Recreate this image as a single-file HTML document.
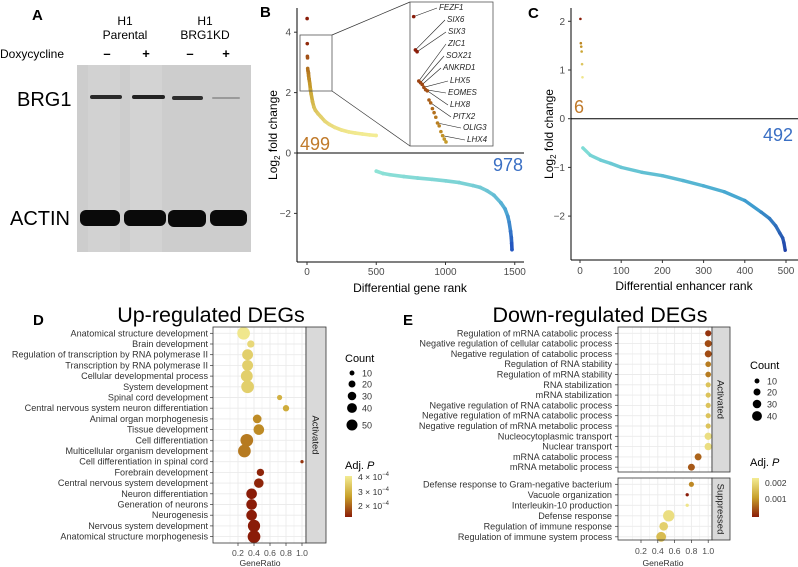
<!DOCTYPE html>
<html><head><meta charset="utf-8"><style>
html,body{margin:0;padding:0;background:#fff;}
svg{display:block;font-family:"Liberation Sans",Arial,sans-serif;}
</style></head><body>
<svg id="fig" width="798" height="567" viewBox="0 0 798 567" xmlns="http://www.w3.org/2000/svg">
<defs>
<linearGradient id="gD" x1="0" y1="0" x2="0" y2="1"><stop offset="0" stop-color="#f3ec94"/><stop offset="0.5" stop-color="#c8a02a"/><stop offset="1" stop-color="#8a1c08"/></linearGradient>
</defs>
<!-- Panel A -->
<g>
<text x="32" y="20" font-size="15" font-weight="bold">A</text>
<text x="125" y="25" font-size="12" text-anchor="middle">H1</text>
<text x="125" y="39" font-size="12" text-anchor="middle">Parental</text>
<text x="205" y="25" font-size="12" text-anchor="middle">H1</text>
<text x="205" y="39" font-size="12" text-anchor="middle">BRG1KD</text>
<text x="0" y="58" font-size="12">Doxycycline</text>
<text x="107" y="58" font-size="13" font-weight="bold" text-anchor="middle">–</text>
<text x="146" y="58" font-size="13" font-weight="bold" text-anchor="middle">+</text>
<text x="190" y="58" font-size="13" font-weight="bold" text-anchor="middle">–</text>
<text x="226" y="58" font-size="13" font-weight="bold" text-anchor="middle">+</text>
<rect x="77" y="65" width="174" height="187" fill="#cdcdcd"/>
<rect x="88" y="65" width="32" height="187" fill="#d2d2d2"/>
<rect x="130" y="65" width="32" height="187" fill="#d3d3d3"/>
<rect x="90" y="95" width="32" height="4" fill="#2a2a2a" rx="2"/>
<rect x="132" y="95" width="33" height="4" fill="#222" rx="2"/>
<rect x="172" y="96" width="31" height="4" fill="#2e2e2e" rx="2"/>
<rect x="212" y="97" width="28" height="2" fill="#9a9a9a" rx="1"/>
<rect x="80" y="210" width="40" height="16" fill="#0a0a0a" rx="6"/>
<rect x="124" y="210" width="42" height="16" fill="#0a0a0a" rx="6"/>
<rect x="168" y="210" width="38" height="17" fill="#0a0a0a" rx="6"/>
<rect x="210" y="210" width="37" height="16" fill="#0a0a0a" rx="6"/>
<text x="17" y="106" font-size="20">BRG1</text>
<text x="10" y="225" font-size="20">ACTIN</text>
</g>
<g id="pB"></g>
<g id="pC"></g>
<g id="pD"></g>
<g id="pE"></g>
</svg>
<script>
// ===== Panel B data =====
const bUpRanks=[1,2,3,4,5,6,8,10,12,15,20,25,30,40,50,60,80,100,130,160,200,250,300,350,400,450,499];
const bUpVals=[4.45,3.62,3.2,3.15,2.8,2.75,2.7,2.65,2.55,2.45,2.3,2.1,1.95,1.7,1.52,1.42,1.3,1.2,1.05,0.95,0.85,0.76,0.7,0.66,0.63,0.6,0.58];
const bDownRanks=[500,550,600,700,800,900,1000,1100,1200,1250,1300,1350,1400,1430,1450,1460,1470,1475,1478,1480];
const bDownVals=[-0.6,-0.68,-0.72,-0.78,-0.83,-0.87,-0.92,-0.98,-1.08,-1.14,-1.25,-1.4,-1.65,-1.85,-2.1,-2.3,-2.6,-2.8,-3.0,-3.2];
const bXTicks=[0,500,1000,1500];
const bYTicks=[-2,0,2,4];
const insetGenes=["FEZF1","SIX6","SIX3","ZIC1","SOX21","ANKRD1","LHX5","EOMES","LHX8","PITX2","OLIG3","LHX4"];
const insetRanks=[1,2,3,4,5,6,7,8,9,10,11,12,13,14,15,16,17,18,19,20];
const insetVals=[4.45,3.87,3.84,3.33,3.3,3.27,3.22,3.18,3.16,3.0,2.95,2.85,2.78,2.7,2.6,2.55,2.45,2.38,2.32,2.27];
// ===== Panel C data =====
const cUpRanks=[1,2,3,4,5,6];
const cUpVals=[2.05,1.55,1.48,1.38,1.12,0.85];
const cDownRanks=[7,25,50,75,100,150,200,250,300,350,400,440,460,475,485,492,495,498];
const cDownVals=[-0.6,-0.75,-0.85,-0.92,-1.0,-1.1,-1.17,-1.27,-1.38,-1.5,-1.68,-1.92,-2.05,-2.2,-2.35,-2.45,-2.55,-2.7];
const cXTicks=[0,100,200,300,400,500];
const cYTicks=[-2,-1,0,1,2];
// ===== Panel D data =====
const dTerms=["Anatomical structure development","Brain development","Regulation of transcription by RNA polymerase II","Transcription by RNA polymerase II","Cellular developmental process","System development","Spinal cord development","Central nervous system neuron differentiation","Animal organ morphogenesis","Tissue development","Cell differentiation","Multicellular organism development","Cell differentiation in spinal cord","Forebrain development","Central nervous system development","Neuron differentiation","Generation of neurons","Neurogenesis","Nervous system development","Anatomical structure morphogenesis"];
const dRatio=[0.27,0.36,0.32,0.32,0.31,0.32,0.72,0.80,0.44,0.46,0.31,0.28,1.0,0.48,0.46,0.37,0.37,0.37,0.40,0.40];
const dCount=[60,20,44,44,52,60,10,15,28,42,60,60,4,20,34,42,42,42,56,60];
const dPadj=[4.2,3.9,3.7,3.7,3.7,3.7,3.1,3.0,2.5,2.5,2.3,2.3,1.5,1.3,1.3,1.2,1.2,1.2,1.2,1.2];
// ===== Panel E data =====
const eTermsA=["Regulation of mRNA catabolic process","Negative regulation of cellular catabolic process","Negative regulation of catabolic process","Regulation of RNA stability","Regulation of mRNA stability","RNA stabilization","mRNA stabilization","Negative regulation of RNA catabolic process","Negative regulation of mRNA catabolic process","Negative regulation of mRNA metabolic process","Nucleocytoplasmic transport","Nuclear transport","mRNA catabolic process","mRNA metabolic process"];
const eRatioA=[1.0,1.0,1.0,1.0,1.0,1.0,1.0,1.0,1.0,1.0,1.0,1.0,0.88,0.80];
const eCountA=[14,18,18,12,12,10,10,10,10,10,20,20,18,18];
const ePadjA=[0.0005,0.0007,0.0007,0.0011,0.0011,0.0019,0.0019,0.0019,0.0019,0.0019,0.0023,0.0023,0.0009,0.0008];
const eTermsS=["Defense response to Gram-negative bacterium","Vacuole organization","Interleukin-10 production","Defense response","Regulation of immune response","Regulation of immune system process"];
const eRatioS=[0.80,0.75,0.75,0.53,0.47,0.44];
const eCountS=[10,4,4,48,28,36];
const ePadjS=[0.0012,0.0003,0.0024,0.0023,0.0021,0.0018];
const ratioTicks=[0.2,0.4,0.6,0.8,1.0];

const NS="http://www.w3.org/2000/svg";
function mk(parent,tag,attrs,txt){const e=document.createElementNS(NS,tag);for(const k in attrs)e.setAttribute(k,attrs[k]);if(txt!==undefined)e.textContent=txt;parent.appendChild(e);return e;}
function lerp(a,b,t){return a+(b-a)*t;}
function hex(c){return [parseInt(c.slice(1,3),16),parseInt(c.slice(3,5),16),parseInt(c.slice(5,7),16)];}
function ramp(stops,t){t=Math.max(0,Math.min(1,t));const n=stops.length-1;const i=Math.min(n-1,Math.floor(t*n));const f=t*n-i;const a=hex(stops[i]),b=hex(stops[i+1]);return `rgb(${Math.round(lerp(a[0],b[0],f))},${Math.round(lerp(a[1],b[1],f))},${Math.round(lerp(a[2],b[2],f))})`;}
const warm=["#f3ec94","#c8a02a","#8a1c08"];

// ===== Panel B =====
(function(){
const g=document.getElementById('pB');
const x=r=>307+r*0.1385, y=v=>153-v*30.2;
mk(g,'text',{x:260,y:17,'font-size':15,'font-weight':'bold',},'B');
mk(g,'line',{x1:297,y1:8,x2:297,y2:262,stroke:'#000','stroke-width':1,});
mk(g,'line',{x1:297,y1:262,x2:524,y2:262,stroke:'#000','stroke-width':1,});
mk(g,'line',{x1:297,y1:y(0),x2:524,y2:y(0),stroke:'#000','stroke-width':1,});
bYTicks.forEach(t=>{const el=mk(g,'text',{x:291,y:y(t)+3.5,'font-size':10,fill:'#4d4d4d','text-anchor':'end'},t<0?'−'+(-t):t);


mk(g,'line',{x1:294,y1:y(t),x2:297,y2:y(t),stroke:'#333'});});
bXTicks.forEach(t=>{const el=mk(g,'text',{x:x(t),y:275,'font-size':10,fill:'#4d4d4d','text-anchor':'middle'},t);


mk(g,'line',{x1:x(t),y1:262,x2:x(t),y2:265,stroke:'#333'});});
mk(g,'text',{x:410,y:292,'font-size':12,'text-anchor':'middle',},'Differential gene rank');
const yt=mk(g,'text',{x:0,y:0,'font-size':12,'text-anchor':'middle',transform:'translate(277,135) rotate(-90)',});
yt.innerHTML='Log<tspan font-size="8" dy="3">2</tspan><tspan dy="-3"> fold change</tspan>';
function series(ranks,vals,col,name){for(let i=0;i<ranks.length-1;i++){const s=mk(g,'line',{x1:x(ranks[i]),y1:y(vals[i]),x2:x(ranks[i+1]),y2:y(vals[i+1]),stroke:col(vals[i]),'stroke-width':3.6,'stroke-linecap':'round'});

}
ranks.forEach((r,i)=>{const c=mk(g,'circle',{cx:x(r),cy:y(vals[i]),r:1.8,fill:col(vals[i])});

});}
const upCol=v=>ramp(warm,(v-0.6)/3.2);
const dnCol=v=>ramp(["#8ee3d6","#4fa9d4","#2457c0"],(-v-0.6)/2.4);
series(bUpRanks.slice(6),bUpVals.slice(6),upCol,'b-up');
bUpRanks.slice(0,6).forEach((r,i)=>{const c=mk(g,'circle',{cx:x(r),cy:y(bUpVals[i]),r:1.8,fill:upCol(bUpVals[i])});

});
series(bDownRanks,bDownVals,dnCol,'b-down');
mk(g,'text',{x:300,y:150,'font-size':18,fill:'#c07a2a',},'499');
mk(g,'text',{x:523,y:171,'font-size':18,fill:'#3a6fc4','text-anchor':'end',},'978');
// inset
mk(g,'rect',{x:300,y:35,width:32,height:56,fill:'none',stroke:'#555','stroke-width':0.8,});
mk(g,'line',{x1:332,y1:35,x2:410,y2:2,stroke:'#333','stroke-width':0.7,});
mk(g,'line',{x1:332,y1:91,x2:410,y2:146,stroke:'#333','stroke-width':0.7,});
mk(g,'rect',{x:410,y:2,width:83,height:144,fill:'#fff',stroke:'#555','stroke-width':0.8,});
const ix=r=>412+r*1.7, iy=v=>8+(4.6-v)*57.5;
const labY=[7,19,31,43,55,67,80,92,104,116,127,139];
const labX=[439,447,448,448,446,443,450,448,450,453,463,467];
const ptIdx=[0,1,2,3,4,5,6,7,8,10,14,17];
insetGenes.forEach((gn,k)=>{const p=ptIdx[k];
const ln=mk(g,'line',{x1:labX[k]-2,y1:labY[k]+1,x2:ix(insetRanks[p]),y2:iy(insetVals[p]),stroke:'#222','stroke-width':0.6});


const t=mk(g,'text',{x:labX[k],y:labY[k]+3,'font-size':8,'font-style':'italic',fill:'#222'},gn);

});
insetRanks.forEach((r,i)=>{const c=mk(g,'circle',{cx:ix(r),cy:iy(insetVals[i]),r:1.8,fill:upCol(insetVals[i])});

});
})();

// ===== Panel C =====
(function(){
const g=document.getElementById('pC');
const x=r=>580+r*0.412, y=v=>118.7-v*48.7;
mk(g,'text',{x:528,y:18,'font-size':15,'font-weight':'bold',},'C');
mk(g,'line',{x1:571,y1:8,x2:571,y2:260,stroke:'#000',});
mk(g,'line',{x1:571,y1:260,x2:798,y2:260,stroke:'#000',});
mk(g,'line',{x1:571,y1:y(0),x2:798,y2:y(0),stroke:'#000',});
cYTicks.forEach(t=>{const el=mk(g,'text',{x:565,y:y(t)+3.5,'font-size':10,fill:'#4d4d4d','text-anchor':'end'},t<0?'−'+(-t):t);


mk(g,'line',{x1:568,y1:y(t),x2:571,y2:y(t),stroke:'#333'});});
cXTicks.forEach(t=>{const el=mk(g,'text',{x:x(t),y:274,'font-size':10,fill:'#4d4d4d','text-anchor':'middle'},t);


mk(g,'line',{x1:x(t),y1:260,x2:x(t),y2:263,stroke:'#333'});});
mk(g,'text',{x:684,y:290,'font-size':12,'text-anchor':'middle',},'Differential enhancer rank');
const yt=mk(g,'text',{x:0,y:0,'font-size':12,'text-anchor':'middle',transform:'translate(553,134) rotate(-90)',});
yt.innerHTML='Log<tspan font-size="8" dy="3">2</tspan><tspan dy="-3"> fold change</tspan>';
const upCol=v=>ramp(warm,(v-0.8)/1.25);
const dnCol=v=>ramp(["#7fdcd6","#3f9fd0","#1f3fa8"],(-v-0.6)/2.1);
cUpRanks.forEach((r,i)=>{const c=mk(g,'circle',{cx:x(r),cy:y(cUpVals[i]),r:1.3,fill:upCol(cUpVals[i])});

});
for(let i=0;i<cDownRanks.length-1;i++){const s=mk(g,'line',{x1:x(cDownRanks[i]),y1:y(cDownVals[i]),x2:x(cDownRanks[i+1]),y2:y(cDownVals[i+1]),stroke:dnCol(cDownVals[i]),'stroke-width':3.4,'stroke-linecap':'round'});

}
cDownRanks.forEach((r,i)=>{const c=mk(g,'circle',{cx:x(r),cy:y(cDownVals[i]),r:1.6,fill:dnCol(cDownVals[i])});

});
mk(g,'text',{x:574,y:113,'font-size':18,fill:'#c07a2a',},'6');
mk(g,'text',{x:793,y:141,'font-size':18,fill:'#3a6fc4','text-anchor':'end',},'492');
})();

// ===== Dot plot helper =====
function dotFacet(g,prefix,terms,ratio,count,padj,left,right,top,bottom,rowTop,rowStep,xr,cscale,labelRight,strip,stripW){
const x=v=>xr(v);
mk(g,'rect',{x:left,y:top,width:right-left,height:bottom-top,fill:'#fff'});
for(let k=1;k<=12;k++){const v=k/10;const xx=x(v);if(xx>left&&xx<right){const l=mk(g,'line',{x1:xx,y1:top,x2:xx,y2:bottom,stroke:'#ebebeb','stroke-width':k%2===0?0.9:0.5});

}}
terms.forEach((t,i)=>{const yy=rowTop+i*rowStep;
const l=mk(g,'line',{x1:left,y1:yy,x2:right,y2:yy,stroke:'#ebebeb','stroke-width':0.9});


mk(g,'line',{x1:left-3,y1:yy,x2:left,y2:yy,stroke:'#333','stroke-width':0.7});
const tx=mk(g,'text',{x:labelRight,y:yy+3,'font-size':9.1,fill:'#333','text-anchor':'end'},t);

});
terms.forEach((t,i)=>{const c=mk(g,'circle',{cx:x(ratio[i]),cy:rowTop+i*rowStep,r:Math.sqrt(count[i])*0.82,fill:cscale(padj[i])});

});
mk(g,'rect',{x:left,y:top,width:right-left,height:bottom-top,fill:'none',stroke:'#333','stroke-width':0.8});
mk(g,'rect',{x:right,y:top,width:stripW,height:bottom-top,fill:'#d9d9d9',stroke:'#333','stroke-width':0.8});
const st=mk(g,'text',{x:0,y:0,'font-size':9.5,fill:'#1a1a1a','text-anchor':'middle',transform:`translate(${right+stripW/2-3.5},${(top+bottom)/2}) rotate(90)`},strip);


}
function xTicks(g,prefix,xr,bottom,ty){ratioTicks.forEach(t=>{mk(g,'line',{x1:xr(t),y1:bottom,x2:xr(t),y2:bottom+3,stroke:'#333','stroke-width':0.7});
const el=mk(g,'text',{x:xr(t),y:ty,'font-size':8.6,fill:'#4d4d4d','text-anchor':'middle'},t.toFixed(1));

});}
function sizeLegend(g,prefix,x0,titleY,labels,ys){mk(g,'text',{x:x0,y:titleY,'font-size':11,},'Count');
labels.forEach((c,i)=>{const d=mk(g,'circle',{cx:x0+7,cy:ys[i],r:Math.sqrt(c)*0.78,fill:'#000'});


const t=mk(g,'text',{x:x0+17,y:ys[i]+3.5,'font-size':9,fill:'#333'},c);

});}

// ===== Panel D =====
(function(){
const g=document.getElementById('pD');
const xr=v=>238+(v-0.2)*80;
mk(g,'text',{x:33,y:325,'font-size':15,'font-weight':'bold',},'D');
mk(g,'text',{x:211,y:322,'font-size':21.5,'text-anchor':'middle',},'Up-regulated DEGs');
const cs=p=>ramp(warm,(4.3-p)/3.1);
dotFacet(g,'d',dTerms,dRatio,dCount,dPadj,213,306,327,543,333.3,10.7,xr,cs,208,'Activated',20);
xTicks(g,'d',xr,543,556);
mk(g,'text',{x:260,y:566,'font-size':8.6,fill:'#333','text-anchor':'middle',},'GeneRatio');
sizeLegend(g,'d',345,362,[10,20,30,40,50],[373,384,396,408,425]);
const lt=mk(g,'text',{x:345,y:469,'font-size':11,});lt.innerHTML='Adj. <tspan font-style="italic">P</tspan>';
mk(g,'rect',{x:345,y:476,width:7,height:41,fill:'url(#gD)',});
[["4",480],["3",495],["2",509]].forEach(a=>{const t=mk(g,'text',{x:358,y:a[1],'font-size':8.6,fill:'#333'});t.innerHTML=a[0]+' × 10<tspan font-size="6" dy="-4">−4</tspan>';

});
})();

// ===== Panel E =====
(function(){
const g=document.getElementById('pE');
const xr=v=>641+(v-0.2)*84;
mk(g,'text',{x:403,y:325,'font-size':15,'font-weight':'bold',},'E');
mk(g,'text',{x:600,y:322,'font-size':21.5,'text-anchor':'middle',},'Down-regulated DEGs');
const cs=p=>ramp(warm,(0.0025-p)/0.0022);
dotFacet(g,'e-activated',eTermsA,eRatioA,eCountA,ePadjA,618,712,327,472,333.3,10.3,xr,cs,612,'Activated',18);
dotFacet(g,'e-suppressed',eTermsS,eRatioS,eCountS,ePadjS,618,712,478,540,484.3,10.5,xr,cs,612,'Suppressed',18);
xTicks(g,'e',xr,540,554);
mk(g,'text',{x:663,y:566,'font-size':8.6,fill:'#333','text-anchor':'middle',},'GeneRatio');
sizeLegend(g,'e',750,369,[10,20,30,40],[381,392,404,416]);
const lt=mk(g,'text',{x:750,y:466,'font-size':11,});lt.innerHTML='Adj. <tspan font-style="italic">P</tspan>';
mk(g,'rect',{x:752,y:478,width:7,height:39,fill:'url(#gD)',});
[["0.002",486],["0.001",502]].forEach(a=>{const t=mk(g,'text',{x:765,y:a[1],'font-size':8.6,fill:'#333'},a[0]);

});
})();
</script>
</body></html>
